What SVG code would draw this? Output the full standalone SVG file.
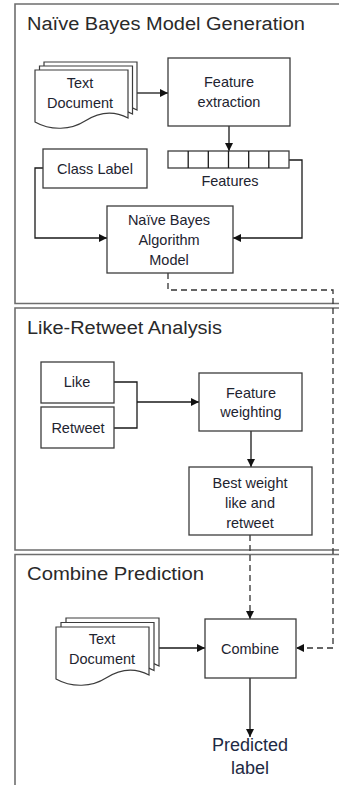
<svg xmlns="http://www.w3.org/2000/svg" width="339" height="785" viewBox="0 0 339 785">
<style>
.frame{fill:none;stroke:#6e6e6e;stroke-width:1.6}
.box{fill:#fff;stroke:#3c3c3c;stroke-width:1.3}
.doc{fill:#fff;stroke:#3c3c3c;stroke-width:1.2}
.t{font-family:"Liberation Sans",Arial,sans-serif;font-size:14.5px;fill:#1e2430;text-anchor:middle}
.title{font-family:"Liberation Sans",Arial,sans-serif;font-size:18px;fill:#2a2a2a}
.big{font-family:"Liberation Sans",Arial,sans-serif;font-size:18px;fill:#1e2a44;text-anchor:middle}
.c{fill:none;stroke:#1a1a1a;stroke-width:1.3}
.d{fill:none;stroke:#333;stroke-width:1.3;stroke-dasharray:6 4}
</style>
<defs>
<marker id="ah" viewBox="0 0 8 8" refX="8" refY="4" markerWidth="8" markerHeight="8" markerUnits="userSpaceOnUse" orient="auto">
<path d="M0,0 L8,4 L0,8 z" fill="#111"/>
</marker>
<path id="docshape" d="M0,0 H93 V48 C78,40 64,42 50,51 C36,60 16,61 0,52 Z"/>
</defs>
<rect width="339" height="785" fill="#fff"/>

<g id="frames">
<path class="frame" d="M340,4 H15 V303.5 H340"/>
<path class="frame" d="M340,308 H15 V550 H340"/>
<path class="frame" d="M340,554.5 H15 V790"/>
<text class="title" x="27" y="30" textLength="278" lengthAdjust="spacingAndGlyphs">Naïve Bayes Model Generation</text>
<text class="title" x="27" y="334" textLength="195" lengthAdjust="spacingAndGlyphs">Like-Retweet Analysis</text>
<text class="title" x="27" y="580" textLength="177" lengthAdjust="spacingAndGlyphs">Combine Prediction</text>
</g>

<g id="connectors">
<path class="c" d="M137,93 H168" marker-end="url(#ah)"/>
<path class="c" d="M229,126 V151" marker-end="url(#ah)"/>
<path class="c" d="M289,160 H302 V238 H233" marker-end="url(#ah)"/>
<path class="c" d="M43,168 H35 V238 H107" marker-end="url(#ah)"/>
<path class="d" d="M168,273 V290 H333 V648 H296" marker-end="url(#ah)"/>
<path class="c" d="M114,382 H137 V428 H114"/>
<path class="c" d="M137,402 H199" marker-end="url(#ah)"/>
<path class="c" d="M251,431 V467" marker-end="url(#ah)"/>
<path class="d" d="M250,535 V619" marker-end="url(#ah)"/>
<path class="c" d="M159,648 H205" marker-end="url(#ah)"/>
<path class="c" d="M250,678 V737" marker-end="url(#ah)"/>
</g>

<g id="textdoc1">
<use href="#docshape" class="doc" transform="translate(44,62)"/>
<use href="#docshape" class="doc" transform="translate(39.5,66)"/>
<use href="#docshape" class="doc" transform="translate(35,70)"/>
<text class="t" x="80" y="88">Text</text>
<text class="t" x="80" y="108">Document</text>
</g>

<g id="featureextraction">
<rect class="box" x="168" y="58" width="122" height="68"/>
<text class="t" x="229" y="87">Feature</text>
<text class="t" x="229" y="107">extraction</text>
</g>

<g id="features">
<rect class="box" x="168" y="151" width="121" height="17"/>
<path class="c" d="M188.2,151 V168 M208.3,151 V168 M228.5,151 V168 M248.7,151 V168 M268.8,151 V168"/>
<text class="t" x="230" y="186">Features</text>
</g>

<g id="classlabel">
<rect class="box" x="43" y="149" width="104" height="39"/>
<text class="t" x="95" y="174">Class Label</text>
</g>

<g id="naivebayes">
<rect class="box" x="107" y="206" width="126" height="67"/>
<text class="t" x="169" y="225">Naïve Bayes</text>
<text class="t" x="169" y="245">Algorithm</text>
<text class="t" x="169" y="265">Model</text>
</g>

<g id="like">
<rect class="box" x="41" y="362" width="73" height="41"/>
<text class="t" x="77" y="387">Like</text>
</g>

<g id="retweet">
<rect class="box" x="41" y="407" width="73" height="41"/>
<text class="t" x="78" y="433">Retweet</text>
</g>

<g id="featureweighting">
<rect class="box" x="199" y="373" width="103" height="58"/>
<text class="t" x="251" y="398">Feature</text>
<text class="t" x="251" y="417">weighting</text>
</g>

<g id="bestweight">
<rect class="box" x="189" y="467" width="123" height="68"/>
<text class="t" x="250" y="488">Best weight</text>
<text class="t" x="250" y="508">like and</text>
<text class="t" x="250" y="528">retweet</text>
</g>

<g id="textdoc2">
<use href="#docshape" class="doc" transform="translate(66,618)"/>
<use href="#docshape" class="doc" transform="translate(61,622.5)"/>
<use href="#docshape" class="doc" transform="translate(56,627)"/>
<text class="t" x="102" y="644">Text</text>
<text class="t" x="102" y="664">Document</text>
</g>

<g id="combine">
<rect class="box" x="205" y="619" width="91" height="59"/>
<text class="t" x="250" y="654">Combine</text>
</g>

<g id="predicted">
<text class="big" x="250" y="751">Predicted</text>
<text class="big" x="250" y="774">label</text>
</g>
</svg>
